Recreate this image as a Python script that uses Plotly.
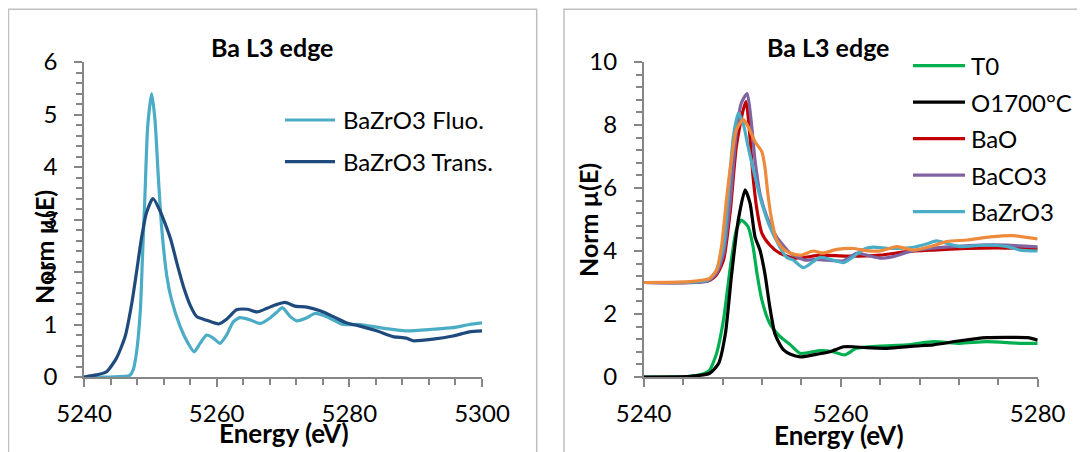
import plotly.graph_objects as go

# ---------------- data: left panel (BaZrO3 fluorescence vs transmission) ----------------
fluo_E = [5240, 5244, 5246.9, 5247.4, 5247.9, 5248.5, 5248.8, 5249.2, 5249.6, 5250.2, 5250.7,
          5251.2, 5251.7, 5252.5, 5253.2, 5254.5, 5255.7, 5256.6, 5257.5, 5258.5, 5259.5, 5260.5,
          5261.5, 5262.5, 5263.5, 5265, 5266.6, 5268.1, 5269.1, 5269.9, 5271.1, 5272.1, 5273.6,
          5274.8, 5276.6, 5279.1, 5281.6, 5284.6, 5288.6, 5292.6, 5295.6, 5298.1, 5300]
fluo_mu = [0, 0, 0.03, 0.13, 0.45, 1.28, 2.23, 3.5, 4.77, 5.40, 4.9,
           3.82, 2.86, 1.91, 1.47, 0.96, 0.64, 0.48, 0.64, 0.8, 0.74, 0.64,
           0.8, 1.05, 1.13, 1.09, 1.02, 1.13, 1.24, 1.32, 1.15, 1.07, 1.13,
           1.21, 1.15, 1.0, 1.0, 0.94, 0.88, 0.91, 0.94, 1.0, 1.03]

trans_E = [5240, 5241.9, 5243.4, 5244.9, 5246.2, 5247.2, 5247.9, 5248.7, 5249.4, 5250.4, 5251.4,
           5252.2, 5253.1, 5254.0, 5255, 5256, 5257, 5258.5, 5260.3, 5261.5, 5263, 5264.6,
           5266.1, 5267.6, 5268.8, 5270.3, 5271.8, 5273.6, 5275.6, 5277.6, 5279.6, 5281.6,
           5284.1, 5286.6, 5288.6, 5289.6, 5292.6, 5295.6, 5298.1, 5300]
trans_mu = [0, 0.04, 0.1, 0.36, 0.77, 1.4, 1.98, 2.67, 3.12, 3.4, 3.18,
            2.93, 2.61, 2.17, 1.72, 1.37, 1.15, 1.08, 1.01, 1.1, 1.28, 1.29,
            1.24, 1.31, 1.37, 1.42, 1.35, 1.33, 1.26, 1.15, 1.03, 0.97,
            0.88, 0.77, 0.74, 0.69, 0.72, 0.78, 0.86, 0.88]

left_names = ["BaZrO3 Fluo.", "BaZrO3 Trans."]
left_colors = ["#4BACC6", "#1F4A7E"]

# ---------------- data: right panel (samples and references) ----------------
t0_E = [5240, 5244.7, 5246.2, 5246.7, 5247.4, 5248.1, 5248.8, 5249.4, 5249.9, 5250.6, 5251.1,
        5251.5, 5252.0, 5252.8, 5253.8, 5254.9, 5255.9, 5257.9, 5259.2, 5260.4, 5261.6, 5264,
        5266.7, 5269.4, 5272.1, 5274.8, 5278.2, 5280]
t0_mu = [0, 0.02, 0.12, 0.22, 0.75, 1.81, 3.5, 4.67, 4.98, 4.77, 4.14,
         3.29, 2.44, 1.7, 1.3, 1.02, 0.75, 0.84, 0.8, 0.7, 0.91, 0.98,
         1.02, 1.12, 1.07, 1.12, 1.07, 1.07]

o1700_E = [5240, 5244.7, 5246.7, 5247.6, 5248.3, 5248.9, 5249.6, 5250.3, 5250.8, 5251.3, 5251.8,
           5252.3, 5252.8, 5253.3, 5253.8, 5254.2, 5254.9, 5255.9, 5257.2, 5258.9, 5260.3, 5261.3,
           5262.6, 5264.7, 5267.4, 5269.4, 5272.1, 5274.8, 5277.5, 5279, 5280]
o1700_mu = [0, 0.02, 0.12, 0.43, 1.39, 3.18, 4.98, 5.94, 5.51, 4.45, 4.03,
            3.29, 2.23, 1.39, 1.05, 0.86, 0.72, 0.64, 0.7, 0.8, 0.96, 0.96,
            0.93, 0.91, 0.98, 1.02, 1.15, 1.25, 1.26, 1.25, 1.17]

bao_E = [5240, 5246.5, 5247.4, 5248.1, 5248.8, 5249.4, 5250.1, 5250.4, 5250.7, 5251.1, 5251.5,
         5252.0, 5252.8, 5253.8, 5255.2, 5256.4, 5257.9, 5260.6, 5264, 5266.7, 5269.4, 5272.8,
         5275.8, 5278.2, 5280]
bao_mu = [3.0, 3.05, 3.25, 3.71, 5.3, 7.31, 8.48, 8.74, 7.95, 6.36, 5.3,
          4.56, 4.19, 3.93, 3.77, 3.8, 3.87, 3.84, 3.87, 3.98, 4.03, 4.08,
          4.1, 4.08, 4.07]

baco3_E = [5240, 5246.5, 5247.4, 5248.1, 5248.8, 5249.4, 5249.9, 5250.5, 5250.9, 5251.3, 5251.8,
           5252.5, 5253.5, 5254.9, 5256.4, 5257.2, 5258.6, 5260.3, 5261.6, 5262.6, 5264, 5265.3,
           5267.0, 5269.1, 5271.4, 5274.1, 5276.9, 5278.2, 5280]
baco3_mu = [3.0, 3.05, 3.3, 3.9, 5.62, 7.74, 8.69, 9.0, 8.16, 6.89, 5.83,
            5.09, 4.45, 3.93, 3.71, 3.73, 3.71, 3.69, 3.93, 3.87, 3.77, 3.82,
            3.98, 4.08, 4.14, 4.19, 4.19, 4.16, 4.13]

bazro3_E = [5240, 5246.5, 5247.4, 5248.1, 5248.6, 5249.1, 5249.6, 5250.1, 5250.6, 5251.3, 5252.0,
            5252.8, 5253.8, 5254.5, 5255.2, 5256.2, 5257.2, 5257.9, 5258.9, 5260.3, 5261.3, 5262.3,
            5263.3, 5265.0, 5267.4, 5268.7, 5269.7, 5270.8, 5272.1, 5274.8, 5276.9, 5278.2, 5280]
bazro3_mu = [3.0, 3.08, 3.4, 4.14, 5.83, 7.63, 8.37, 8.05, 7.31, 6.36, 5.51,
             4.77, 4.14, 3.8, 3.71, 3.47, 3.66, 3.8, 3.74, 3.63, 3.82, 4.05,
             4.12, 4.08, 4.12, 4.22, 4.32, 4.24, 4.14, 4.19, 4.14, 4.03, 4.0]

# sixth curve (orange) whose legend entry is cut off in the original
extra_E = [5240, 5244.7, 5246.7, 5247.4, 5247.9, 5248.4, 5248.9, 5249.4, 5250.1, 5250.6, 5251.3,
           5252.0, 5252.3, 5252.6, 5253.0, 5253.5, 5254.3, 5255.2, 5256.0, 5257.2, 5258.2, 5259.6,
           5261.3, 5262.6, 5264, 5265.7, 5267.4, 5269.1, 5270.8, 5272.8, 5275.2, 5277.5, 5280]
extra_mu = [3.0, 3.03, 3.13, 3.4, 4.14, 5.62, 6.89, 7.84, 8.18, 7.95, 7.47,
            7.15, 6.68, 5.83, 4.98, 4.35, 4.03, 3.9, 3.87, 4.0, 3.93, 4.05,
            4.08, 4.01, 4.0, 4.14, 4.03, 4.14, 4.3, 4.35, 4.45, 4.49, 4.38]

right_names = ["T0", "O1700°C", "BaO", "BaCO3", "BaZrO3"]
right_colors = ["#00B050", "#000000", "#C00000", "#8064A2", "#4BACC6"]
extra_color = "#EE8A3C"

title_text = "Ba L3 edge"
x_title = "Energy (eV)"
y_title = "Norm µ(E)"

# ---------------- figure ----------------
# the page body adds an 8 px offset, so the figure is drawn 8 px smaller and
# all layout positions (given in window pixels) are shifted by that offset
OFF = 8
W, H = 1085 - OFF, 452 - OFF
FONT = "Lato"


def fx(px):
    return (px - OFF) / W


def fy(py):
    return 1 - (py - OFF) / H


fig = go.Figure()

LW = 3.2
for E, mu, name, col in zip([fluo_E, trans_E], [fluo_mu, trans_mu], left_names, left_colors):
    fig.add_trace(go.Scatter(x=E, y=mu, name=name, mode="lines", xaxis="x", yaxis="y",
                             line=dict(color=col, width=LW, shape="spline", smoothing=0.6),
                             showlegend=False))

right_E = [t0_E, o1700_E, bao_E, baco3_E, bazro3_E]
right_mu = [t0_mu, o1700_mu, bao_mu, baco3_mu, bazro3_mu]
for E, mu, name, col in zip(right_E, right_mu, right_names, right_colors):
    fig.add_trace(go.Scatter(x=E, y=mu, name=name, mode="lines", xaxis="x2", yaxis="y2",
                             line=dict(color=col, width=LW, shape="spline", smoothing=0.6),
                             showlegend=False))
fig.add_trace(go.Scatter(x=extra_E, y=extra_mu, name="", mode="lines", xaxis="x2", yaxis="y2",
                         line=dict(color=extra_color, width=LW, shape="spline", smoothing=0.6),
                         showlegend=False))

AX = "#868686"
base_axis = dict(showline=True, linecolor=AX, linewidth=1.5, ticks="outside", ticklen=8,
                 tickwidth=1.5, tickcolor=AX, showgrid=False, zeroline=False, automargin=False,
                 tickfont=dict(family=FONT, size=24, color="black"))


def axis(**kw):
    d = dict(base_axis)
    d.update(kw)
    return d


def minor(step):
    return dict(dtick=step, ticks="outside", ticklen=6, tickwidth=1.5, tickcolor=AX,
                showgrid=False)


ydom = [fy(377), fy(62)]
fig.update_layout(
    template="none",
    width=W, height=H, autosize=False,
    margin=dict(l=0, r=0, t=0, b=0, pad=0, autoexpand=False),
    paper_bgcolor="white", plot_bgcolor="white",
    showlegend=False,
    xaxis=axis(domain=[fx(84), fx(482)], range=[5240, 5300], dtick=20, tick0=5240, anchor="y",
               ticklabelstandoff=6, minor=minor(4)),
    yaxis=axis(domain=ydom, range=[0, 6], dtick=1, anchor="x", ticklabelstandoff=12,
               minor=minor(0.2)),
    xaxis2=axis(domain=[fx(643.7), fx(1037.7)], range=[5240, 5280], dtick=20, tick0=5240,
                anchor="y2", ticklabelstandoff=6, minor=minor(4)),
    yaxis2=axis(domain=ydom, range=[0, 10], dtick=2, anchor="x2", ticklabelstandoff=12,
                minor=minor(0.4)),
)

shapes = []
annotations = []

# chart-area frames
FRAME = "#BFBFBF"
shapes.append(dict(type="rect", xref="paper", yref="paper", x0=fx(8.5), x1=fx(536.7),
                   y0=fy(470), y1=fy(9.3), line=dict(color=FRAME, width=1.5), layer="below"))
shapes.append(dict(type="rect", xref="paper", yref="paper", x0=fx(564), x1=fx(1100),
                   y0=fy(470), y1=fy(9.3), line=dict(color=FRAME, width=1.5), layer="below"))


def text(t, x, y, size, bold=False, angle=0, xanchor="center"):
    annotations.append(dict(text=f"<b>{t}</b>" if bold else t, x=fx(x), y=fy(y),
                            xref="paper", yref="paper", showarrow=False, textangle=angle,
                            xanchor=xanchor, yanchor="middle",
                            font=dict(family=FONT, size=size, color="black")))


# titles and axis titles
text(title_text, 272, 47, 25, bold=True)
text(title_text, 828, 47, 25, bold=True)
text(x_title, 283.5, 433, 26, bold=True)
text(x_title, 839, 435, 26, bold=True)
text(y_title, 44, 247, 25, bold=True, angle=-90)
text(y_title, 588, 220, 25, bold=True, angle=-90)

# legends
for i, (name, col) in enumerate(zip(left_names, left_colors)):
    yy = 120 + i * 41.7
    shapes.append(dict(type="line", xref="paper", yref="paper", x0=fx(285), x1=fx(335),
                       y0=fy(yy), y1=fy(yy), line=dict(color=col, width=LW)))
    text(name, 341, yy, 24, xanchor="left")

for i, (name, col) in enumerate(zip(right_names, right_colors)):
    yy = 65.7 + i * 36.5
    shapes.append(dict(type="line", xref="paper", yref="paper", x0=fx(913), x1=fx(965),
                       y0=fy(yy), y1=fy(yy), line=dict(color=col, width=LW)))
    text(name, 969, yy, 24, xanchor="left")

fig.update_layout(shapes=shapes, annotations=annotations)

fig.write_html("out.html")
